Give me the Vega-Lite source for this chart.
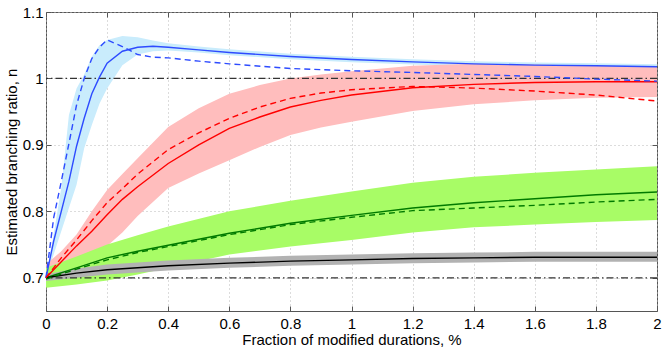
{
  "$schema": "https://vega.github.io/schema/vega-lite/v6.json",
  "width": 611,
  "height": 299,
  "autosize": "none",
  "padding": {"left": 46, "top": 12, "right": 7, "bottom": 37},
  "background": "white",
  "config": {
    "view": {"stroke": "#555555", "strokeWidth": 1},
    "font": "Liberation Sans",
    "axis": {"labelFont": "Liberation Sans", "titleFont": "Liberation Sans", "labelFontSize": 15, "titleFontSize": 15, "titleFontWeight": "normal", "labelColor": "#000", "titleColor": "#000", "domain": false}
  },
  "datasets": {
    "curves": [
      {"series": "blue", "x": 0, "solid": 0.7, "dashed": 0.7, "lo": 0.7, "hi": 0.7},
      {"series": "blue", "x": 0.025, "solid": 0.755, "dashed": 0.79, "lo": 0.735, "hi": 0.765},
      {"series": "blue", "x": 0.05, "solid": 0.8, "dashed": 0.845, "lo": 0.77, "hi": 0.835},
      {"series": "blue", "x": 0.075, "solid": 0.845, "dashed": 0.902, "lo": 0.805, "hi": 0.945},
      {"series": "blue", "x": 0.1, "solid": 0.898, "dashed": 0.96, "lo": 0.84, "hi": 0.985},
      {"series": "blue", "x": 0.125, "solid": 0.94, "dashed": 1.0, "lo": 0.895, "hi": 1.006},
      {"series": "blue", "x": 0.15, "solid": 0.977, "dashed": 1.03, "lo": 0.93, "hi": 1.033},
      {"series": "blue", "x": 0.175, "solid": 1.002, "dashed": 1.047, "lo": 0.962, "hi": 1.05},
      {"series": "blue", "x": 0.2, "solid": 1.023, "dashed": 1.058, "lo": 0.985, "hi": 1.058},
      {"series": "blue", "x": 0.25, "solid": 1.041, "dashed": 1.048, "lo": 1.02, "hi": 1.064},
      {"series": "blue", "x": 0.3, "solid": 1.047, "dashed": 1.036, "lo": 1.036, "hi": 1.062},
      {"series": "blue", "x": 0.35, "solid": 1.0485, "dashed": 1.032, "lo": 1.041, "hi": 1.057},
      {"series": "blue", "x": 0.4, "solid": 1.047, "dashed": 1.031, "lo": 1.042, "hi": 1.053},
      {"series": "blue", "x": 0.5, "solid": 1.043, "dashed": 1.026, "lo": 1.039, "hi": 1.048},
      {"series": "blue", "x": 0.6, "solid": 1.039, "dashed": 1.022, "lo": 1.035, "hi": 1.044},
      {"series": "blue", "x": 0.8, "solid": 1.033, "dashed": 1.015, "lo": 1.029, "hi": 1.037},
      {"series": "blue", "x": 1.0, "solid": 1.0285, "dashed": 1.0115, "lo": 1.0245, "hi": 1.0325},
      {"series": "blue", "x": 1.2, "solid": 1.025, "dashed": 1.009, "lo": 1.021, "hi": 1.029},
      {"series": "blue", "x": 1.4, "solid": 1.022, "dashed": 1.006, "lo": 1.018, "hi": 1.026},
      {"series": "blue", "x": 1.6, "solid": 1.02, "dashed": 1.003, "lo": 1.016, "hi": 1.024},
      {"series": "blue", "x": 1.8, "solid": 1.019, "dashed": 0.999, "lo": 1.015, "hi": 1.023},
      {"series": "blue", "x": 2.0, "solid": 1.0175, "dashed": 0.996, "lo": 1.0135, "hi": 1.0215},

      {"series": "red", "x": 0, "solid": 0.7, "dashed": 0.7, "lo": 0.69, "hi": 0.72},
      {"series": "red", "x": 0.05, "solid": 0.724, "dashed": 0.73, "lo": 0.7, "hi": 0.74},
      {"series": "red", "x": 0.1, "solid": 0.748, "dashed": 0.757, "lo": 0.715, "hi": 0.765},
      {"series": "red", "x": 0.15, "solid": 0.77, "dashed": 0.786, "lo": 0.73, "hi": 0.8},
      {"series": "red", "x": 0.2, "solid": 0.795, "dashed": 0.813, "lo": 0.748, "hi": 0.832},
      {"series": "red", "x": 0.25, "solid": 0.818, "dashed": 0.834, "lo": 0.768, "hi": 0.856},
      {"series": "red", "x": 0.3, "solid": 0.837, "dashed": 0.856, "lo": 0.793, "hi": 0.88},
      {"series": "red", "x": 0.4, "solid": 0.872, "dashed": 0.893, "lo": 0.835, "hi": 0.927},
      {"series": "red", "x": 0.5, "solid": 0.9, "dashed": 0.918, "lo": 0.857, "hi": 0.955},
      {"series": "red", "x": 0.6, "solid": 0.925, "dashed": 0.94, "lo": 0.877, "hi": 0.977},
      {"series": "red", "x": 0.7, "solid": 0.942, "dashed": 0.957, "lo": 0.897, "hi": 0.99},
      {"series": "red", "x": 0.8, "solid": 0.957, "dashed": 0.97, "lo": 0.915, "hi": 1.0},
      {"series": "red", "x": 0.9, "solid": 0.967, "dashed": 0.978, "lo": 0.926, "hi": 1.006},
      {"series": "red", "x": 1.0, "solid": 0.975, "dashed": 0.983, "lo": 0.935, "hi": 1.011},
      {"series": "red", "x": 1.2, "solid": 0.986, "dashed": 0.988, "lo": 0.951, "hi": 1.019},
      {"series": "red", "x": 1.4, "solid": 0.991, "dashed": 0.9855, "lo": 0.961, "hi": 1.022},
      {"series": "red", "x": 1.6, "solid": 0.994, "dashed": 0.981, "lo": 0.967, "hi": 1.021},
      {"series": "red", "x": 1.8, "solid": 0.995, "dashed": 0.975, "lo": 0.971, "hi": 1.019},
      {"series": "red", "x": 2.0, "solid": 0.995, "dashed": 0.966, "lo": 0.972, "hi": 1.017},

      {"series": "green", "x": 0, "solid": 0.7, "dashed": 0.698, "lo": 0.685, "hi": 0.715},
      {"series": "green", "x": 0.1, "solid": 0.715, "dashed": 0.713, "lo": 0.69, "hi": 0.732},
      {"series": "green", "x": 0.2, "solid": 0.73, "dashed": 0.727, "lo": 0.696, "hi": 0.75},
      {"series": "green", "x": 0.3, "solid": 0.74, "dashed": 0.738, "lo": 0.705, "hi": 0.764},
      {"series": "green", "x": 0.4, "solid": 0.749, "dashed": 0.747, "lo": 0.715, "hi": 0.777},
      {"series": "green", "x": 0.6, "solid": 0.767, "dashed": 0.765, "lo": 0.735, "hi": 0.8},
      {"series": "green", "x": 0.8, "solid": 0.782, "dashed": 0.78, "lo": 0.747, "hi": 0.816},
      {"series": "green", "x": 1.0, "solid": 0.794, "dashed": 0.791, "lo": 0.757, "hi": 0.83},
      {"series": "green", "x": 1.2, "solid": 0.805, "dashed": 0.801, "lo": 0.768, "hi": 0.843},
      {"series": "green", "x": 1.4, "solid": 0.813, "dashed": 0.805, "lo": 0.776, "hi": 0.852},
      {"series": "green", "x": 1.6, "solid": 0.819, "dashed": 0.809, "lo": 0.78, "hi": 0.858},
      {"series": "green", "x": 1.8, "solid": 0.825, "dashed": 0.814, "lo": 0.784, "hi": 0.863},
      {"series": "green", "x": 2.0, "solid": 0.829, "dashed": 0.818, "lo": 0.787, "hi": 0.868},

      {"series": "black", "x": 0, "solid": 0.7, "lo": 0.695, "hi": 0.705},
      {"series": "black", "x": 0.1, "solid": 0.707, "lo": 0.7, "hi": 0.714},
      {"series": "black", "x": 0.2, "solid": 0.712, "lo": 0.705, "hi": 0.72},
      {"series": "black", "x": 0.4, "solid": 0.718, "lo": 0.711, "hi": 0.726},
      {"series": "black", "x": 0.6, "solid": 0.722, "lo": 0.715, "hi": 0.73},
      {"series": "black", "x": 0.8, "solid": 0.725, "lo": 0.718, "hi": 0.733},
      {"series": "black", "x": 1.0, "solid": 0.727, "lo": 0.72, "hi": 0.735},
      {"series": "black", "x": 1.2, "solid": 0.729, "lo": 0.722, "hi": 0.737},
      {"series": "black", "x": 1.4, "solid": 0.73, "lo": 0.723, "hi": 0.738},
      {"series": "black", "x": 1.6, "solid": 0.731, "lo": 0.724, "hi": 0.739},
      {"series": "black", "x": 1.8, "solid": 0.731, "lo": 0.724, "hi": 0.739},
      {"series": "black", "x": 2.0, "solid": 0.731, "lo": 0.724, "hi": 0.739}
    ],
    "refs": [{"n": 1.0}, {"n": 0.7}]
  },
  "resolve": {"axis": {"x": "independent", "y": "independent"}},
  "layer": [
    {
      "data": {"name": "curves"},
      "transform": [{"filter": "datum.series === 'blue'"}],
      "mark": {"type": "area", "color": "#c9ecfc", "opacity": 1},
      "encoding": {
        "x": {"field": "x", "type": "quantitative", "scale": {"domain": [0, 2], "nice": false},
          "axis": {"orient": "bottom", "values": [0, 0.2, 0.4, 0.6, 0.8, 1, 1.2, 1.4, 1.6, 1.8, 2], "format": "~g", "title": "Fraction of modified durations, %", "grid": true, "gridColor": "#b8b8b8", "gridDash": [1, 3], "gridWidth": 1, "tickColor": "#555", "tickSize": -5, "labelPadding": 10, "titlePadding": 1, "labelFlush": false}},
        "y": {"field": "lo", "type": "quantitative", "scale": {"domain": [0.65, 1.1], "nice": false, "zero": false},
          "axis": {"orient": "left", "values": [0.7, 0.8, 0.9, 1, 1.1], "format": "~g", "title": "Estimated branching ratio, n", "grid": true, "gridColor": "#b8b8b8", "gridDash": [1, 3], "gridWidth": 1, "tickColor": "#555", "tickSize": -5, "labelPadding": 8, "titlePadding": 3, "labelFlush": false}},
        "y2": {"field": "hi"}
      }
    },
    {
      "data": {"name": "curves"},
      "transform": [{"filter": "datum.series === 'red'"}],
      "mark": {"type": "area", "color": "#ffbdbd", "opacity": 1},
      "encoding": {
        "x": {"field": "x", "type": "quantitative", "axis": {"orient": "top", "values": [0, 0.2, 0.4, 0.6, 0.8, 1, 1.2, 1.4, 1.6, 1.8, 2], "labels": false, "grid": false, "title": null, "tickColor": "#555", "tickSize": -5}},
        "y": {"field": "lo", "type": "quantitative", "axis": {"orient": "right", "values": [0.7, 0.8, 0.9, 1, 1.1], "labels": false, "grid": false, "title": null, "tickColor": "#555", "tickSize": -5}},
        "y2": {"field": "hi"}
      }
    },
    {
      "data": {"name": "curves"},
      "transform": [{"filter": "datum.series === 'green'"}],
      "mark": {"type": "area", "color": "#a8fc66", "opacity": 1},
      "encoding": {
        "x": {"field": "x", "type": "quantitative", "axis": null},
        "y": {"field": "lo", "type": "quantitative", "axis": null},
        "y2": {"field": "hi"}
      }
    },
    {
      "data": {"name": "curves"},
      "transform": [{"filter": "datum.series === 'black'"}],
      "mark": {"type": "area", "color": "#b2b2b2", "opacity": 1},
      "encoding": {
        "x": {"field": "x", "type": "quantitative", "axis": null},
        "y": {"field": "lo", "type": "quantitative", "axis": null},
        "y2": {"field": "hi"}
      }
    },
    {
      "data": {"name": "refs"},
      "mark": {"type": "rule", "color": "#333333", "strokeWidth": 1.2, "strokeDash": [7, 3, 1.5, 3]},
      "encoding": {
        "y": {"field": "n", "type": "quantitative", "axis": null}
      }
    },
    {
      "data": {"name": "curves"},
      "mark": {"type": "line", "strokeWidth": 1.4},
      "encoding": {
        "x": {"field": "x", "type": "quantitative", "axis": null},
        "y": {"field": "solid", "type": "quantitative", "axis": null},
        "color": {"field": "series", "type": "nominal", "legend": null,
          "scale": {"domain": ["blue", "red", "green", "black"], "range": ["#2d4bff", "#ff0000", "#007a00", "#000000"]}}
      }
    },
    {
      "data": {"name": "curves"},
      "transform": [{"filter": "isValid(datum.dashed)"}],
      "mark": {"type": "line", "strokeWidth": 1.4, "strokeDash": [6, 4]},
      "encoding": {
        "x": {"field": "x", "type": "quantitative", "axis": null},
        "y": {"field": "dashed", "type": "quantitative", "axis": null},
        "color": {"field": "series", "type": "nominal", "legend": null,
          "scale": {"domain": ["blue", "red", "green", "black"], "range": ["#2d4bff", "#ff0000", "#007a00", "#000000"]}}
      }
    }
  ]
}
